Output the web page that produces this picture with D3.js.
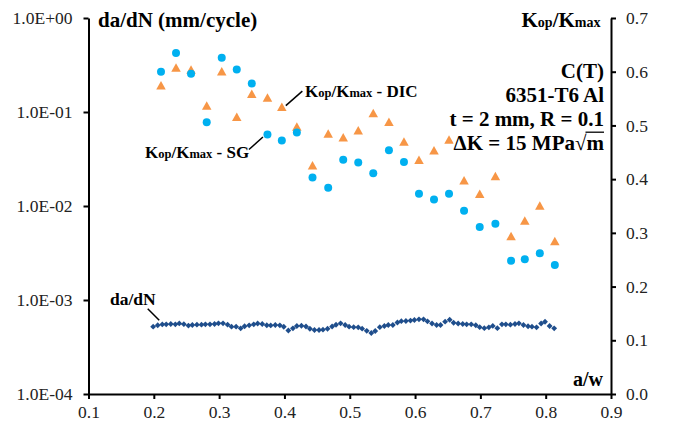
<!DOCTYPE html>
<html>
<head>
<meta charset="utf-8">
<script src="https://cdn.jsdelivr.net/npm/d3@7/dist/d3.min.js"></script>
<style>
  html, body { margin: 0; padding: 0; background: #fff; }
  svg { display: block; }
  text { font-family: "Liberation Serif", "Times New Roman", serif; }
</style>
</head>
<body>
<svg id="chart" width="683" height="422"></svg>
<script>
// Crack length ratio a/W for the closure measurements
const awKop = [0.211,0.234,0.257,0.281,0.304,0.327,0.350,0.374,0.396,0.419,0.443,0.467,0.490,0.513,
               0.536,0.560,0.583,0.606,0.629,0.652,0.675,0.699,0.723,0.747,0.768,0.791,0.814];
// Kop/Kmax from strain gauge
const kopSG = [0.600,0.635,0.596,0.506,0.626,0.604,0.578,0.483,0.472,0.487,0.403,0.384,0.436,0.431,
               0.411,0.454,0.432,0.373,0.362,0.373,0.341,0.311,0.317,0.248,0.251,0.262,0.240];
// Kop/Kmax from digital image correlation
const kopDIC = [0.575,0.608,0.604,0.537,0.601,0.516,0.559,0.552,0.535,0.498,0.426,0.485,0.478,0.491,
                0.523,0.507,0.470,0.436,0.454,0.474,0.398,0.373,0.406,0.294,0.323,0.351,0.285];

// Crack length ratio a/W for the growth-rate record
const awRate = [0.199,0.206,0.213,0.219,0.226,0.233,0.239,0.246,0.253,0.259,0.266,0.273,0.279,0.286,
                0.293,0.299,0.306,0.313,0.319,0.326,0.333,0.339,0.346,0.353,0.359,0.366,0.373,0.379,
                0.386,0.393,0.399,0.406,0.413,0.419,0.426,0.433,0.439,0.446,0.453,0.459,0.466,0.473,
                0.479,0.486,0.493,0.499,0.506,0.513,0.519,0.526,0.533,0.539,0.546,0.553,0.559,0.566,
                0.573,0.579,0.586,0.593,0.599,0.606,0.613,0.619,0.626,0.633,0.639,0.646,0.653,0.659,
                0.666,0.673,0.679,0.686,0.693,0.699,0.706,0.713,0.719,0.726,0.733,0.739,0.746,0.753,
                0.759,0.766,0.773,0.779,0.786,0.793,0.799,0.806,0.813];
// da/dN in mm/cycle
const dadN = [5.20e-4,5.39e-4,5.50e-4,5.51e-4,5.56e-4,5.51e-4,5.64e-4,5.53e-4,5.34e-4,5.42e-4,5.46e-4,5.46e-4,
              5.51e-4,5.51e-4,5.56e-4,5.65e-4,5.65e-4,5.46e-4,5.20e-4,5.20e-4,5.00e-4,5.26e-4,5.38e-4,5.51e-4,
              5.62e-4,5.56e-4,5.39e-4,5.36e-4,5.42e-4,5.38e-4,5.19e-4,4.74e-4,5.00e-4,5.29e-4,5.32e-4,5.22e-4,
              4.94e-4,4.80e-4,4.80e-4,4.83e-4,4.94e-4,5.22e-4,5.45e-4,5.65e-4,5.42e-4,5.20e-4,5.14e-4,5.12e-4,
              4.95e-4,4.70e-4,4.46e-4,4.68e-4,5.14e-4,5.29e-4,5.42e-4,5.42e-4,5.76e-4,5.95e-4,5.98e-4,6.04e-4,
              6.13e-4,6.23e-4,6.23e-4,5.93e-4,5.62e-4,5.42e-4,5.42e-4,5.88e-4,6.17e-4,5.73e-4,5.62e-4,5.56e-4,
              5.51e-4,5.51e-4,5.39e-4,5.14e-4,5.02e-4,5.12e-4,5.30e-4,5.02e-4,5.51e-4,5.51e-4,5.47e-4,5.56e-4,
              5.65e-4,5.42e-4,5.26e-4,5.20e-4,5.12e-4,5.62e-4,5.87e-4,5.29e-4,5.00e-4];

// Axis ticks
const xTicks = [0.1,0.2,0.3,0.4,0.5,0.6,0.7,0.8,0.9];
const rateTicks = [1e-4,1e-3,1e-2,1e-1,1];
const rateTickLabels = ["1.0E-04","1.0E-03","1.0E-02","1.0E-01","1.0E+00"];
const kopTicks = [0,0.1,0.2,0.3,0.4,0.5,0.6,0.7];

const note = ["C(T)","6351-T6 Al","t = 2 mm, R = 0.1"];

const svg = d3.select("#chart");
const plotL = 88.5, plotR = 611, plotT = 18, plotB = 394;

const x = d3.scaleLinear().domain([0.1,0.9]).range([plotL,plotR]);
const yRate = d3.scaleLog().domain([1e-4,1]).range([plotB,plotT]);
const yKop = d3.scaleLinear().domain([0,0.7]).range([plotB,plotT]);

const ink = "#000";
const labelInk = "#222";

function styleAxis(g) {
  g.selectAll(".domain").attr("stroke", ink).attr("stroke-width", 2);
  g.selectAll(".tick line").attr("stroke", ink).attr("stroke-width", 2);
  g.selectAll(".tick text")
    .attr("font-family", "Liberation Serif, Times New Roman, serif")
    .attr("font-size", 17.5).attr("fill", labelInk);
}

// bottom axis
svg.append("g").attr("transform", `translate(0,${plotB})`)
  .call(d3.axisBottom(x).tickValues(xTicks).tickFormat(d3.format(".1f")).tickSize(5).tickSizeOuter(0).tickPadding(7))
  .call(styleAxis);

// left log axis
svg.append("g").attr("transform", `translate(${plotL},0)`)
  .call(d3.axisLeft(yRate).tickValues(rateTicks)
        .tickFormat((d,i) => rateTickLabels[i]).tickSize(5).tickSizeOuter(0).tickPadding(11))
  .call(styleAxis);

// right Kop/Kmax axis
svg.append("g").attr("transform", `translate(${plotR},0)`)
  .call(d3.axisRight(yKop).tickValues(kopTicks).tickFormat(d3.format(".1f")).tickSize(5).tickSizeOuter(0).tickPadding(10))
  .call(styleAxis);

// Markers
const tri = (w, h) => `M0,${-h/2}L${w/2},${h/2}L${-w/2},${h/2}Z`;

svg.append("g").selectAll("path").data(awKop).join("path")
  .attr("d", tri(9.5, 8.5))
  .attr("transform", (d,i) => `translate(${x(d)},${yKop(kopDIC[i])})`)
  .attr("fill", "#F79646");

svg.append("g").selectAll("circle").data(awKop).join("circle")
  .attr("cx", d => x(d)).attr("cy", (d,i) => yKop(kopSG[i])).attr("r", 4)
  .attr("fill", "#00B0F0");

const diamond = d3.symbol().type(d3.symbolSquare).size(17)();
svg.append("g").selectAll("path").data(awRate).join("path")
  .attr("d", diamond)
  .attr("transform", (d,i) => `translate(${x(d)},${yRate(dadN[i])}) rotate(45)`)
  .attr("fill", "#1F4E8C");

// Axis titles
svg.append("text").attr("x", 98).attr("y", 27)
  .attr("font-size", 21).attr("font-weight", "bold").attr("fill", ink)
  .text("da/dN (mm/cycle)");

function kLabel(sel, big, small, tail) {
  sel.append("tspan").attr("font-size", big).text("K");
  sel.append("tspan").attr("font-size", small).text("op");
  sel.append("tspan").attr("font-size", big).text("/K");
  sel.append("tspan").attr("font-size", small).text("max");
  if (tail) sel.append("tspan").attr("font-size", big).text(tail);
}

const kTitle = svg.append("text").attr("x", 600.5).attr("y", 27).attr("text-anchor", "end")
  .attr("font-weight", "bold").attr("fill", ink);
kLabel(kTitle, 21, 14);

svg.append("text").attr("x", 603).attr("y", 386).attr("text-anchor", "end")
  .attr("font-size", 20).attr("font-weight", "bold").attr("fill", ink).text("a/w");

// Specimen note, with a white box behind it
const noteG = svg.append("g");
const noteBg = noteG.append("rect").attr("fill", "#fff");
const noteY = [77.5, 101.7, 125.9];
note.forEach((s, i) => {
  noteG.append("text").attr("x", 604).attr("y", noteY[i]).attr("text-anchor", "end")
    .attr("font-size", 21).attr("font-weight", "bold").attr("fill", ink).text(s);
});
const dk = noteG.append("text").attr("x", 604).attr("y", 150).attr("text-anchor", "end")
  .attr("font-size", 21).attr("font-weight", "bold").attr("fill", ink)
  .text("\u0394K = 15 MPa\u221Am");
{
  const n = dk.node();
  const last = n.getExtentOfChar(n.getNumberOfChars() - 1);
  const rad = n.getExtentOfChar(n.getNumberOfChars() - 2);
  const yTop = rad.y + 1.2;
  noteG.append("line").attr("x1", rad.x + rad.width - 1).attr("x2", last.x + last.width)
    .attr("y1", yTop).attr("y2", yTop).attr("stroke", ink).attr("stroke-width", 1.3);
  const bb = dk.node().getBBox();
  noteBg.attr("x", bb.x).attr("y", bb.y + 2).attr("width", bb.width).attr("height", bb.height - 4);
}

// Series labels with leader lines
function leader(x1, y1, x2, y2) {
  svg.append("line").attr("x1", x1).attr("y1", y1).attr("x2", x2).attr("y2", y2)
    .attr("stroke", ink).attr("stroke-width", 1.5);
}

const dicIdx = 8;
const dicX = x(awKop[dicIdx]), dicY = yKop(kopDIC[dicIdx]);
leader(dicX + 4, dicY - 1, dicX + 20.5, dicY - 15.5);
const dicLab = svg.append("text").attr("x", 305).attr("y", 97.3)
  .attr("font-weight", "bold").attr("fill", ink);
kLabel(dicLab, 17, 12.5, " - DIC");

const sgIdx = 7;
const sgX = x(awKop[sgIdx]), sgY = yKop(kopSG[sgIdx]);
leader(sgX - 4.5, sgY + 2.5, sgX - 18.5, sgY + 15);
const sgLab = svg.append("text").attr("x", 145).attr("y", 158.3)
  .attr("font-weight", "bold").attr("fill", ink);
kLabel(sgLab, 17, 12.5, " - SG");

const rX = x(awRate[1]), rY = yRate(dadN[1]);
leader(rX - 10, rY - 16.5, rX + 1.5, rY - 5);
svg.append("text").attr("x", 110).attr("y", 305)
  .attr("font-size", 17.5).attr("font-weight", "bold").attr("fill", ink).text("da/dN");
</script>
</body>
</html>
